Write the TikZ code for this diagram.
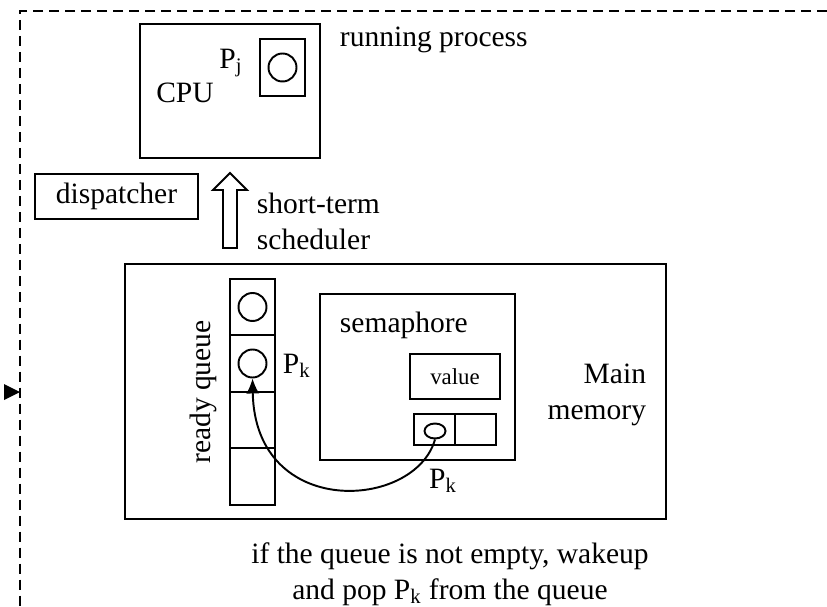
\documentclass[tikz,border=0pt]{standalone}
\usepackage{fontspec}
\setmainfont{Liberation Serif}
\usepackage{tikz}
\usetikzlibrary{arrows.meta,positioning,shapes.geometric}

\begin{document}
\begin{tikzpicture}[
        x=0.02cm,
        y=-0.02cm,
        line width=1.1pt,
        font=\fontsize{16.8}{20.4}\selectfont,
        box/.style={draw, inner sep=0pt},
        cell/.style={draw, inner sep=0pt, minimum width=0.9cm, minimum height=1.13cm},
        proc/.style={draw, circle, inner sep=0pt, minimum size=0.56cm},
        lbl/.style={inner sep=0pt},
        frame/.style={dash pattern=on 0.2cm off 0.12cm}
    ]
        \useasboundingbox (0,0) rectangle (827,607);

        % outer dashed frame and the arrow entering it
        \draw[frame] (827,11) -- (20,11) -- (20,607);
        \fill (4,384) -- (20,392) -- (4,400) -- cycle;

        % CPU with running process
        \node[box, minimum width=3.6cm, minimum height=2.68cm] (cpu) at (230,91) {};
        \node[box, minimum width=0.9cm, minimum height=1.14cm] (run) at (282.5,67.5) {};
        \node[proc] (pj) at (run.center) {};
        \node[lbl] (pjlab) at (231,63) {P\textsubscript{j}};
        \node[lbl] (cpulab) at (185,93) {CPU};
        \node[lbl, anchor=base west] (runlab) at (339,47) {running process};

        % dispatcher and short-term scheduler
        \node[box, minimum width=3.26cm, minimum height=0.9cm] (disp) at (116.5,196.5) {dispatcher};
        \draw (223,248) -- (223,190) -- (213,190) -- (230,173) -- (247,190) -- (237,190) -- (237,248) -- cycle;
        \node[lbl, anchor=west, align=left] (sched) at (256,221) {short-term\\scheduler};

        % main memory
        \node[box, minimum width=10.82cm, minimum height=5.1cm] (mem) at (395.5,391.5) {};
        \node[lbl, anchor=east, align=right] (memlab) at (647,395) {Main\\memory};

        % ready queue
        \foreach \i/\y in {1/307,2/363.5,3/420,4/476.5} {
            \node[cell] (q\i) at (252.5,\y) {};
        }
        \node[proc] (pa) at (q1.center) {};
        \node[proc] (pk) at (q2.center) {};
        \node[lbl, rotate=90] (rqlab) at (203,392) {ready queue};
        \node[lbl, anchor=west] (pklab) at (282,366) {P\textsubscript{k}};

        % semaphore
        \node[box, minimum width=3.9cm, minimum height=3.32cm] (sem) at (417.5,377) {};
        \node[lbl, anchor=west] (semlab) at (339,325) {semaphore};
        \node[box, minimum width=1.8cm, minimum height=0.9cm, font=\fontsize{13}{16}\selectfont] (val) at (455,376.5) {value};
        \node[box, minimum width=0.82cm, minimum height=0.62cm] (wq1) at (434.5,429.5) {};
        \node[box, minimum width=0.82cm, minimum height=0.62cm] (wq2) at (475.5,429.5) {};
        \node[draw, ellipse, inner sep=0pt, minimum width=0.42cm, minimum height=0.3cm] (wk) at (435,431) {};
        \node[lbl] (wklab) at (443,481) {P\textsubscript{k}};

        \draw[-{Latex[length=3mm,width=2.6mm]}] (wk.south) .. controls (415,510) and (255,520) .. (pk.south);

        \node[lbl, align=center] (note) at (450,574) {if the queue is not empty, wakeup\\and pop P\textsubscript{k} from the queue};
    \end{tikzpicture}
\end{document}
